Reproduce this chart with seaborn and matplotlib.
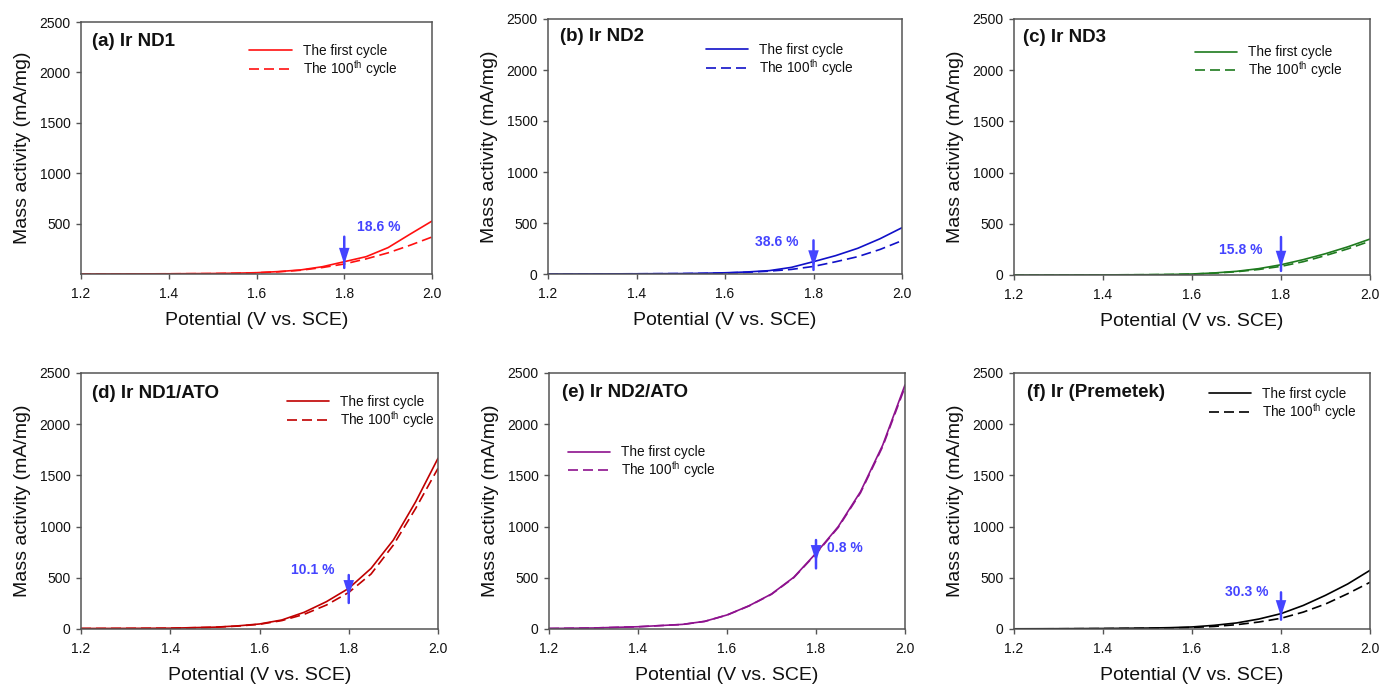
import numpy as np
import pandas as pd
import matplotlib
matplotlib.use("Agg")
import matplotlib.pyplot as plt
import seaborn as sns

sns.set_theme(style="ticks")
plt.rcParams["font.family"] = ["Liberation Sans", "DejaVu Sans"]

# Potential axis (V vs. SCE)
potential = [1.20, 1.30, 1.40, 1.50, 1.55, 1.60, 1.65, 1.70, 1.75, 1.80, 1.85, 1.90, 1.95, 2.00]

# Mass activity (mA/mg): first cycle / 100th cycle for each catalyst
nd1_first = [0, 1, 2, 5, 8, 13, 24, 40, 72, 122, 172, 262, 395, 525]
nd1_100th = [0, 1, 2, 4, 7, 12, 22, 37, 64, 99.3, 150, 210, 285, 367]

nd2_first = [0, 1, 2, 4, 7, 12, 20, 33, 65, 121, 180, 252, 345, 454]
nd2_100th = [0, 1, 2, 4, 6, 10, 17, 28, 45, 74.3, 120, 170, 240, 327]

nd3_first = [0, 0, 1, 3, 5, 10, 20, 36, 62, 100, 150, 208, 275, 351]
nd3_100th = [0, 0, 1, 3, 5, 9, 18, 32, 54, 84.2, 130, 190, 255, 330]

nd1ato_first = [5, 6, 8, 18, 30, 49, 88, 163, 267, 397, 592, 869, 1243, 1667]
nd1ato_100th = [5, 6, 8, 17, 28, 46, 82, 143, 234, 357, 537, 820, 1178, 1569]

nd2ato_first = [5, 10, 22, 45, 75, 137, 228, 342, 505, 740, 1000, 1341, 1797, 2383]
nd2ato_100th = [5, 10, 22, 44, 74, 136, 226, 339, 501, 734, 992, 1330, 1783, 2364]

prem_first = [2, 3, 5, 9, 13, 20, 36, 59, 97, 150, 230, 329, 440, 573]
prem_100th = [1, 2, 4, 7, 10, 15, 25, 42, 68, 104.5, 165, 244, 345, 456]

titles = ["(a) Ir ND1", "(b) Ir ND2", "(c) Ir ND3",
          "(d) Ir ND1/ATO", "(e) Ir ND2/ATO", "(f) Ir (Premetek)"]
first_cycles = [nd1_first, nd2_first, nd3_first, nd1ato_first, nd2ato_first, prem_first]
last_cycles = [nd1_100th, nd2_100th, nd3_100th, nd1ato_100th, nd2ato_100th, prem_100th]
line_colors = ["#FF1010", "#1010C8", "#1E7A1E", "#C00000", "#8E128E", "#000000"]
loss_labels = ["18.6 %", "38.6 %", "15.8 %", "10.1 %", "0.8 %", "30.3 %"]

# arrow at 1.8 V: (tail, tip, shaft end) in mA/mg
arrow_spans = [(370, 95, 60), (330, 70, 40), (371, 75, 40),
               (527, 316, 254), (869, 658, 592), (358, 120, 91)]
# loss label: (x, y, horizontal alignment)
label_pos = [(1.828, 469, "left"), (1.765, 317, "right"), (1.758, 240, "right"),
             (1.767, 575, "right"), (1.825, 795, "left"), (1.771, 358, "right")]

W, H = 1383, 686
# axes boxes in pixels: left, right, top, bottom
boxes = [(81, 432, 22, 274), (548, 902, 19, 274), (1014, 1370, 19, 275),
         (81, 438, 373, 629), (549, 905, 373, 629), (1014, 1370, 373, 629)]
title_xy = [(0.031, 0.956), (0.034, 0.965), (0.025, 0.96),
            (0.031, 0.953), (0.037, 0.957), (0.037, 0.957)]
legend_xy = [(0.48, 0.912), (0.446, 0.907), (0.508, 0.897),
             (0.577, 0.914), (0.053, 0.717), (0.548, 0.945)]

arrow_color = "#4444FF"
spine_color = "#555555"

fig = plt.figure(figsize=(W / 100, H / 100), dpi=100)
fig.patch.set_facecolor("white")

for i in range(6):
    l, r, t, b = boxes[i]
    ax = fig.add_axes([l / W, (H - b) / H, (r - l) / W, (b - t) / H])
    df = pd.DataFrame({
        "Potential": potential * 2,
        "Activity": first_cycles[i] + last_cycles[i],
        "Cycle": ["The first cycle"] * len(potential) + ["The 100$^{\\mathregular{th}}$ cycle"] * len(potential),
    })
    sns.lineplot(data=df, x="Potential", y="Activity", style="Cycle",
                 dashes=[(None, None), (6, 3)], color=line_colors[i],
                 linewidth=1.2, ax=ax, legend=True)

    ax.set_xlim(1.2, 2.0)
    ax.set_ylim(0, 2500)
    ax.set_xticks([1.2, 1.4, 1.6, 1.8, 2.0])
    ax.set_xticklabels(["1.2", "1.4", "1.6", "1.8", "2.0"])
    if i == 0:
        ax.set_yticks([500, 1000, 1500, 2000, 2500])
    else:
        ax.set_yticks([0, 500, 1000, 1500, 2000, 2500])
    ax.tick_params(axis="both", direction="out", length=3.5, width=1,
                   color=spine_color, labelsize=10, labelcolor="#111111")
    ax.tick_params(axis="x", pad=6)
    ax.tick_params(axis="y", pad=4)
    for s in ax.spines.values():
        s.set_color(spine_color)
        s.set_linewidth(1.1)
    ax.set_xlabel("Potential (V vs. SCE)", fontsize=14, labelpad=8, color="#111111")
    ax.set_ylabel("Mass activity (mA/mg)", fontsize=14, labelpad=6, color="#111111")

    ax.text(title_xy[i][0], title_xy[i][1], titles[i], transform=ax.transAxes,
            fontsize=13.5, fontweight="bold", ha="left", va="top", color="#111111")

    leg = ax.legend(loc="upper left", bbox_to_anchor=legend_xy[i], frameon=False,
                    fontsize=9.8, handlelength=3.1, handletextpad=0.8,
                    labelspacing=0.0, borderpad=0, borderaxespad=0)
    for txt in leg.get_texts():
        txt.set_color("#111111")

    tail, tip, end = arrow_spans[i]
    # shaft runs through the head and a little past its point
    ax.annotate("", xy=(1.8, end), xytext=(1.8, tail),
                arrowprops=dict(arrowstyle="-", color=arrow_color, lw=1.8,
                                shrinkA=0, shrinkB=0))
    ax.annotate("", xy=(1.8, tip), xytext=(1.8, tail),
                arrowprops=dict(arrowstyle="-|>,head_length=0.85,head_width=0.27",
                                color=arrow_color, lw=0.01, mutation_scale=14,
                                shrinkA=0, shrinkB=0))
    lx, ly, ha = label_pos[i]
    ax.text(lx, ly, loss_labels[i], fontsize=10, fontweight="bold",
            color=arrow_color, ha=ha, va="center")

fig.savefig("out.png", dpi=100, facecolor="white")
